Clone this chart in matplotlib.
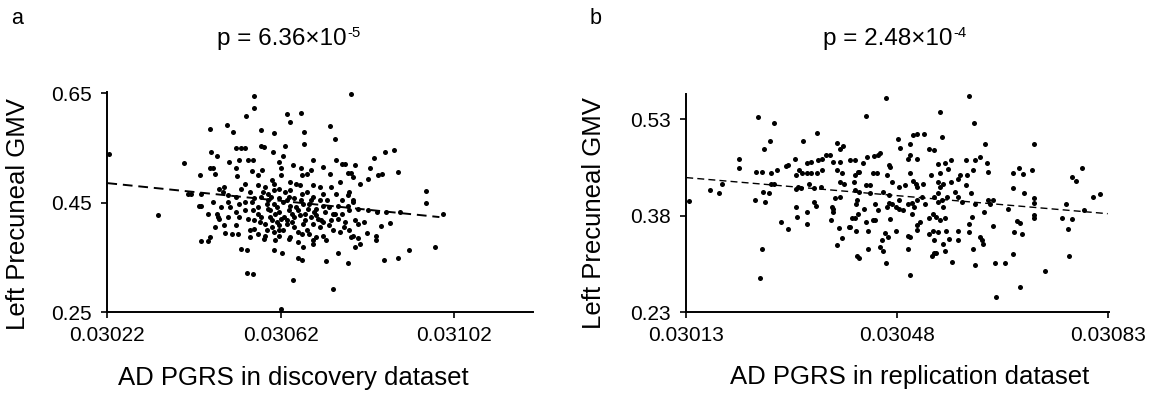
import numpy as np
import matplotlib
matplotlib.use('Agg')
import matplotlib.pyplot as plt
from matplotlib.ticker import FormatStrFormatter

plt.rcParams['font.family'] = ['Liberation Sans', 'DejaVu Sans']

# ---- Discovery dataset (PGRS given in units of 1e-5) ----
disc_pgrs = [
    3055.8, 3078.3, 3055.8, 3054.1, 3063.6, 3066.7, 3064.3, 3073.5, 3049.6, 3045.8,
    3051.1, 3057.5, 3060.5, 3067.4, 3074.5, 3051.8, 3052.8, 3053.9, 3057.5, 3058.2,
    3063.0, 3067.4, 3046.0, 3047.3, 3060.3, 3062.6, 3054.4, 3055.6, 3088.1, 3086.2,
    3050.0, 3052.4, 3061.7, 3064.9, 3069.4, 3074.9, 3076.2, 3077.0, 3079.2, 3083.6,
    3045.8, 3046.3, 3046.9, 3051.6, 3055.4, 3057.7, 3062.2, 3066.7, 3069.0, 3071.9,
    3039.7, 3085.5, 3089.1, 3082.6, 3078.3, 3077.5, 3043.5, 3052.0, 3056.7, 3060.0,
    3062.2, 3067.0, 3068.1, 3073.5, 3075.8, 3084.5, 3080.4, 3082.1, 3053.7, 3056.7,
    3060.5, 3064.3, 3065.6, 3066.4, 3069.4, 3078.7, 3049.0, 3047.9, 3048.6, 3052.8,
    3054.9, 3057.9, 3059.2, 3060.5, 3061.7, 3063.0, 3064.3, 3066.9, 3068.1, 3071.9,
    3074.9, 3077.9, 3077.5, 3040.7, 3041.4, 3043.7, 3046.3, 3049.9, 3051.6, 3055.8,
    3057.5, 3059.2, 3061.7, 3065.1, 3069.4, 3071.1, 3078.7, 3095.7, 3043.1, 3043.7,
    3048.2, 3050.3, 3052.4, 3053.7, 3055.4, 3056.7, 3058.8, 3060.5, 3061.3, 3062.6,
    3064.3, 3065.6, 3067.3, 3068.5, 3070.2, 3071.9, 3073.2, 3075.3, 3077.5, 3078.7,
    3080.0, 3082.1, 3095.7, 3045.2, 3047.3, 3051.6, 3056.7, 3059.6, 3061.7, 3063.9,
    3066.0, 3067.7, 3069.8, 3072.3, 3074.5, 3077.9, 3084.3, 3089.6, 3086.4, 3047.6,
    3047.7, 3049.9, 3052.4, 3054.5, 3055.8, 3057.5, 3059.6, 3060.0, 3062.2, 3063.4,
    3065.1, 3067.7, 3069.0, 3070.7, 3071.9, 3073.6, 3075.3, 3077.0, 3079.2, 3081.3,
    3099.5, 3087.4, 3085.1, 3049.0, 3051.6, 3055.8, 3058.4, 3060.0, 3061.7, 3063.4,
    3065.1, 3067.3, 3069.4, 3071.1, 3073.2, 3076.6, 3080.0, 3046.9, 3049.2, 3050.9,
    3052.2, 3054.9, 3056.7, 3058.4, 3060.5, 3062.6, 3064.3, 3066.9, 3068.5, 3070.2,
    3071.9, 3074.1, 3075.8, 3077.9, 3081.9, 3084.0, 3054.9, 3058.2, 3060.7, 3061.7,
    3063.9, 3069.4, 3072.4, 3078.3, 3084.0, 3080.0, 3078.7, 3043.7, 3045.3, 3045.8,
    3067.3, 3069.4, 3079.2, 3080.3, 3052.9, 3054.3, 3060.5, 3062.3, 3066.0, 3075.3,
    3091.7, 3097.7, 3066.0, 3067.0, 3072.6, 3077.5, 3089.1, 3086.0, 3054.3, 3055.6,
    3064.9, 3074.1, 3062.0, 3022.4, 3033.6, 3059.0, 3060.7, 3062.8, 3064.7, 3066.4,
    3068.4, 3070.2, 3071.3, 3057.3, 3061.1, 3064.7, 3068.1, 3061.7, 3058.8, 3066.0,
    3063.6, 3059.9, 3066.8, 3069.0, 3072.8, 3074.1, 3076.2, 3076.2, 3055.6, 3053.7,
    3049.9, 3071.1, 3073.6, 3058.4, 3063.9,
]
disc_gmv = [
    0.646, 0.648, 0.624, 0.608, 0.613, 0.615, 0.597, 0.591, 0.593, 0.584,
    0.580, 0.583, 0.578, 0.580, 0.566, 0.550, 0.550, 0.550, 0.553, 0.552,
    0.553, 0.557, 0.543, 0.535, 0.543, 0.535, 0.529, 0.529, 0.546, 0.543,
    0.524, 0.529, 0.525, 0.519, 0.529, 0.529, 0.521, 0.521, 0.519, 0.531,
    0.513, 0.513, 0.503, 0.513, 0.508, 0.510, 0.513, 0.513, 0.510, 0.516,
    0.522, 0.503, 0.506, 0.513, 0.505, 0.505, 0.500, 0.499, 0.500, 0.491,
    0.500, 0.500, 0.503, 0.502, 0.488, 0.500, 0.485, 0.494, 0.485, 0.483,
    0.485, 0.488, 0.485, 0.482, 0.482, 0.497, 0.479, 0.476, 0.470, 0.476,
    0.470, 0.470, 0.467, 0.473, 0.476, 0.470, 0.473, 0.467, 0.470, 0.467,
    0.467, 0.470, 0.464, 0.467, 0.466, 0.467, 0.452, 0.464, 0.461, 0.458,
    0.461, 0.455, 0.458, 0.458, 0.461, 0.455, 0.455, 0.472, 0.445, 0.445,
    0.442, 0.442, 0.448, 0.452, 0.452, 0.442, 0.448, 0.448, 0.442, 0.452,
    0.445, 0.442, 0.447, 0.448, 0.439, 0.445, 0.442, 0.444, 0.445, 0.452,
    0.439, 0.436, 0.450, 0.430, 0.430, 0.433, 0.430, 0.436, 0.433, 0.436,
    0.436, 0.430, 0.433, 0.433, 0.430, 0.436, 0.433, 0.433, 0.433, 0.424,
    0.421, 0.425, 0.424, 0.421, 0.418, 0.424, 0.424, 0.418, 0.421, 0.418,
    0.424, 0.418, 0.424, 0.421, 0.415, 0.418, 0.421, 0.415, 0.418, 0.415,
    0.430, 0.413, 0.407, 0.409, 0.409, 0.403, 0.412, 0.406, 0.409, 0.412,
    0.406, 0.412, 0.411, 0.406, 0.409, 0.406, 0.412, 0.406, 0.395, 0.393,
    0.393, 0.400, 0.393, 0.390, 0.397, 0.400, 0.387, 0.393, 0.393, 0.387,
    0.390, 0.400, 0.397, 0.400, 0.395, 0.390, 0.387, 0.384, 0.383, 0.390,
    0.384, 0.383, 0.383, 0.387, 0.383, 0.386, 0.390, 0.381, 0.381, 0.387,
    0.369, 0.375, 0.370, 0.375, 0.366, 0.363, 0.364, 0.359, 0.378, 0.359,
    0.364, 0.370, 0.349, 0.345, 0.343, 0.340, 0.350, 0.345, 0.321, 0.320,
    0.309, 0.293, 0.256, 0.539, 0.427, 0.439, 0.430, 0.425, 0.430, 0.427,
    0.439, 0.427, 0.418, 0.415, 0.415, 0.415, 0.401, 0.400, 0.400, 0.397,
    0.455, 0.461, 0.456, 0.455, 0.455, 0.430, 0.430, 0.455, 0.436, 0.436,
    0.452, 0.479, 0.479, 0.479, 0.461,
]
disc_fit_pgrs = [3022.0, 3098.7]
disc_fit_gmv = [0.486, 0.424]
disc_p = ('p = 6.36×10', '-5')

# ---- Replication dataset (PGRS given in units of 1e-5) ----
rep_pgrs = [
    3046.1, 3060.0, 3055.1, 3042.8, 3025.0, 3027.5, 3060.8, 3034.7, 3026.9, 3025.9,
    3032.4, 3048.1, 3050.7, 3051.4, 3052.5, 3055.5, 3048.5, 3050.1, 3062.7, 3070.7,
    3038.0, 3039.1, 3038.5, 3043.1, 3045.2, 3044.9, 3053.3, 3054.2, 3050.2, 3049.9,
    3051.4, 3056.9, 3056.0, 3054.8, 3059.4, 3060.9, 3061.8, 3062.9, 3067.3, 3068.2,
    3069.0, 3070.4, 3078.8, 3077.0, 3077.8, 3080.6, 3081.7, 3079.1, 3076.0, 3075.4,
    3077.1, 3076.4, 3076.6, 3072.6, 3068.5, 3064.4, 3064.3, 3065.9, 3067.3, 3067.4,
    3068.8, 3068.0, 3068.5, 3070.7, 3070.7, 3070.7, 3070.7, 3069.1, 3067.3, 3066.4,
    3064.0, 3063.5, 3064.0, 3062.4, 3060.9, 3060.5, 3060.3, 3059.5, 3059.7, 3060.6,
    3063.2, 3058.5, 3058.2, 3061.8, 3062.1, 3060.7, 3061.0, 3062.3, 3059.9, 3059.9,
    3058.2, 3058.2, 3057.1, 3056.2, 3056.6, 3055.7, 3056.0, 3054.2, 3053.8, 3054.5,
    3054.2, 3055.2, 3056.0, 3055.7, 3053.9, 3054.5, 3053.3, 3054.8, 3055.4, 3054.2,
    3054.8, 3055.1, 3055.7, 3054.8, 3053.6, 3055.1, 3056.5, 3052.4, 3050.1, 3050.7,
    3051.1, 3051.4, 3052.1, 3051.4, 3050.5, 3049.9, 3050.8, 3049.3, 3048.4, 3051.8,
    3051.4, 3051.3, 3050.5, 3048.4, 3049.0, 3047.8, 3047.2, 3049.9, 3050.2, 3049.9,
    3050.2, 3046.1, 3046.0, 3046.5, 3046.9, 3045.5, 3045.2, 3045.7, 3043.2, 3041.4,
    3041.7, 3041.2, 3041.1, 3040.6, 3040.0, 3038.9, 3038.0, 3038.3, 3043.2, 3042.9,
    3044.0, 3044.4, 3044.9, 3044.4, 3046.3, 3046.7, 3041.4, 3041.2, 3041.7, 3041.1,
    3041.1, 3041.7, 3040.8, 3042.9, 3043.5, 3044.0, 3044.7, 3044.2, 3045.7, 3046.3,
    3046.9, 3046.6, 3047.2, 3046.6, 3043.5, 3042.5, 3041.6, 3038.6, 3039.2, 3040.2,
    3041.1, 3042.3, 3041.6, 3038.1, 3038.8, 3038.5, 3037.4, 3036.8, 3036.2, 3035.6,
    3034.8, 3033.7, 3033.0, 3032.2, 3031.8, 3031.3, 3031.0, 3029.5, 3029.9, 3028.1,
    3027.0, 3025.5, 3024.6, 3021.8, 3021.7, 3019.0, 3018.5, 3017.0, 3013.5, 3024.5,
    3026.0, 3026.7, 3025.8, 3027.5, 3027.0, 3031.6, 3031.2, 3032.0, 3033.4, 3034.2,
    3035.3, 3033.7, 3033.1, 3034.7, 3035.5, 3031.3, 3031.4, 3033.0, 3033.0, 3034.2,
    3034.5, 3028.7, 3029.9, 3037.2, 3037.3, 3037.7, 3038.5, 3037.4, 3037.1, 3040.2,
    3025.5, 3025.2, 3053.3, 3053.9, 3054.8, 3058.2, 3058.8, 3057.6, 3056.9, 3052.7,
    3048.4, 3047.8, 3063.1, 3056.3,
]
rep_gmv = [
    0.564, 0.567, 0.542, 0.536, 0.533, 0.525, 0.525, 0.509, 0.497, 0.484,
    0.497, 0.500, 0.505, 0.507, 0.508, 0.503, 0.486, 0.491, 0.491, 0.491,
    0.493, 0.489, 0.484, 0.471, 0.477, 0.474, 0.484, 0.482, 0.474, 0.468,
    0.468, 0.467, 0.462, 0.461, 0.467, 0.467, 0.471, 0.462, 0.446, 0.454,
    0.445, 0.452, 0.454, 0.441, 0.434, 0.409, 0.414, 0.389, 0.398, 0.377,
    0.375, 0.360, 0.317, 0.295, 0.269, 0.254, 0.306, 0.306, 0.320, 0.355,
    0.352, 0.372, 0.369, 0.376, 0.381, 0.407, 0.400, 0.416, 0.423, 0.391,
    0.404, 0.399, 0.364, 0.386, 0.399, 0.378, 0.415, 0.428, 0.443, 0.452,
    0.448, 0.444, 0.438, 0.347, 0.342, 0.328, 0.303, 0.336, 0.368, 0.355,
    0.357, 0.342, 0.309, 0.357, 0.344, 0.337, 0.325, 0.322, 0.318, 0.323,
    0.343, 0.373, 0.376, 0.394, 0.383, 0.378, 0.377, 0.402, 0.404, 0.409,
    0.415, 0.425, 0.430, 0.433, 0.443, 0.446, 0.453, 0.429, 0.447, 0.434,
    0.429, 0.425, 0.409, 0.404, 0.400, 0.398, 0.393, 0.428, 0.425, 0.371,
    0.366, 0.358, 0.383, 0.391, 0.389, 0.394, 0.398, 0.348, 0.347, 0.329,
    0.288, 0.306, 0.354, 0.347, 0.375, 0.342, 0.331, 0.326, 0.329, 0.318,
    0.314, 0.356, 0.376, 0.377, 0.363, 0.346, 0.334, 0.361, 0.357, 0.370,
    0.373, 0.373, 0.389, 0.398, 0.394, 0.400, 0.404, 0.398, 0.417, 0.420,
    0.443, 0.448, 0.433, 0.428, 0.428, 0.446, 0.446, 0.473, 0.417, 0.443,
    0.456, 0.459, 0.433, 0.412, 0.415, 0.391, 0.383, 0.433, 0.430, 0.467,
    0.467, 0.462, 0.448, 0.452, 0.446, 0.464, 0.464, 0.474, 0.474, 0.469,
    0.467, 0.464, 0.462, 0.446, 0.451, 0.443, 0.468, 0.457, 0.459, 0.452,
    0.446, 0.448, 0.448, 0.469, 0.454, 0.429, 0.416, 0.420, 0.403, 0.404,
    0.402, 0.416, 0.417, 0.430, 0.430, 0.425, 0.421, 0.424, 0.430, 0.424,
    0.425, 0.446, 0.447, 0.446, 0.452, 0.394, 0.378, 0.386, 0.368, 0.402,
    0.396, 0.370, 0.359, 0.394, 0.386, 0.407, 0.409, 0.390, 0.373, 0.363,
    0.329, 0.284, 0.352, 0.356, 0.355, 0.409, 0.402, 0.417, 0.433, 0.399,
    0.404, 0.357, 0.404, 0.409,
]
rep_fit_pgrs = [3013.0, 3083.0]
rep_fit_gmv = [0.4395, 0.3834]
rep_p = ('p = 2.48×10', '-4')

disc_xticks = [0.03022, 0.03062, 0.03102]
disc_yticks = [0.25, 0.45, 0.65]
rep_xticks = [0.03013, 0.03048, 0.03083]
rep_yticks = [0.23, 0.38, 0.53]


def draw_panel(ax, pgrs, gmv, fit_x, fit_y, xticks, yticks, xlim, ylim, dash_lw):
    x = np.array(pgrs) * 1e-5
    ax.scatter(x, gmv, s=13, c='black', linewidths=0, clip_on=False, zorder=3)
    ax.plot(np.array(fit_x) * 1e-5, fit_y, color='black', lw=dash_lw,
            linestyle=(0, (5, 3)), zorder=2)
    ax.set_xlim(xlim)
    ax.set_ylim(ylim)
    ax.set_xticks(xticks)
    ax.set_yticks(yticks)
    ax.xaxis.set_major_formatter(FormatStrFormatter('%.5f'))
    ax.yaxis.set_major_formatter(FormatStrFormatter('%.2f'))
    for side in ['top', 'right']:
        ax.spines[side].set_visible(False)
    for side in ['left', 'bottom']:
        ax.spines[side].set_linewidth(1.4)
    ax.tick_params(axis='x', direction='out', length=4, width=1.2, labelsize=15, pad=6)
    ax.tick_params(axis='y', direction='out', length=4, width=1.2, labelsize=15, pad=7)


fig = plt.figure(figsize=(11.52, 3.98), dpi=100)

# ---------- panel a ----------
ax1 = fig.add_axes([0.0932, 0.2153, 0.3694, 0.5543])
draw_panel(ax1, disc_pgrs, disc_gmv, disc_fit_pgrs, disc_fit_gmv,
           disc_xticks, disc_yticks, (0.03022, 0.031203), (0.25, 0.653), 1.4)

# ---------- panel b ----------
ax2 = fig.add_axes([0.5957, 0.2153, 0.3669, 0.5477])
draw_panel(ax2, rep_pgrs, rep_gmv, rep_fit_pgrs, rep_fit_gmv,
           rep_xticks, rep_yticks, (0.03013, 0.030832), (0.23, 0.569), 1.0)


# Labels placed in figure pixels
def ftext(px, py, s, **kw):
    return fig.text(px / 1152, 1 - py / 398, s, **kw)


def ptext(px, py, parts, size):
    # main text plus a small raised exponent written with a plain hyphen
    main = ftext(px, py, parts[0], fontsize=size, ha='left', va='baseline')
    renderer = fig.canvas.get_renderer()
    bb = main.get_window_extent(renderer=renderer)
    fig.text(bb.x1 / 1152 + 0.001, 1 - (py - 8) / 398, parts[1],
             fontsize=size * 0.62, ha='left', va='baseline')


ftext(17, 19, 'a', fontsize=15.5, ha='center', va='center')
ftext(596, 18, 'b', fontsize=15.5, ha='center', va='center')
ptext(217, 45, disc_p, 17.5)
ptext(823, 45, rep_p, 17.5)
ftext(293, 378, 'AD PGRS in discovery dataset', fontsize=18.5, ha='center', va='center')
ftext(910, 377, 'AD PGRS in replication dataset', fontsize=18.5, ha='center', va='center')
ftext(18, 214, 'Left Precuneal GMV', fontsize=18.5, ha='center', va='center', rotation=90)
ftext(594, 213, 'Left Precuneal GMV', fontsize=18.5, ha='center', va='center', rotation=90)

plt.savefig('out.png', dpi=100)
